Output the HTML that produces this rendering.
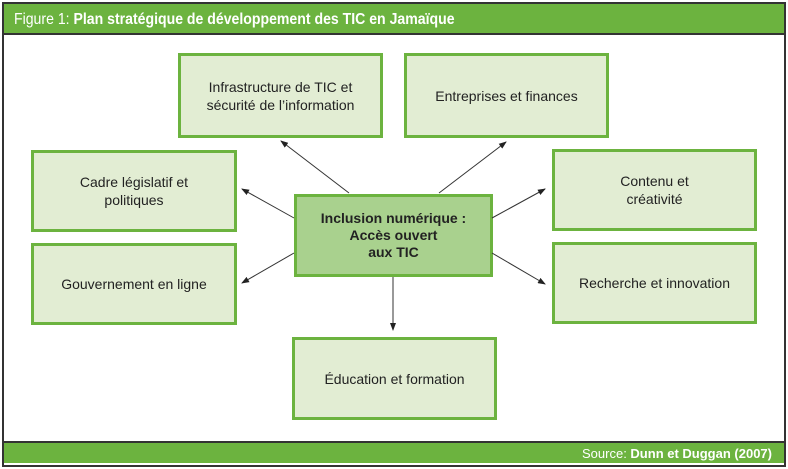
<!DOCTYPE html>
<html><head><meta charset="utf-8"><style>
body{margin:0;width:788px;height:469px;background:#fff;position:relative;overflow:hidden;font-family:"Liberation Sans",Arial,sans-serif}
.frame{position:absolute;left:2px;top:2px;width:780px;height:461px;border:2px solid #333;}
.hdr{position:absolute;left:4px;top:4px;width:780px;height:31px;background:#6cb33f;border-bottom:2px solid #333;color:#fff;font-size:16px;line-height:31px;padding-left:10px;box-sizing:border-box;white-space:nowrap}
.hdr span{display:inline-block;transform:scaleX(0.88);transform-origin:left}
.ftr{position:absolute;left:4px;top:441px;width:780px;height:22px;background:#6cb33f;border-top:2px solid #333;color:#fff;font-size:13px;line-height:21px;text-align:right;padding-right:12px;box-sizing:border-box}
.b{position:absolute;box-sizing:border-box;border:3px solid #6cb33f;background:#e2edd3;display:flex;align-items:center;justify-content:center;text-align:center;font-size:14px;color:#222;line-height:18px}
.c{background:#a9d18e;font-weight:bold;font-size:14px;line-height:17px}
</style></head><body>
<div class="frame"></div>
<div class="hdr"><span>Figure 1: <b>Plan stratégique de développement des TIC en Jamaïque</b></span></div>
<div class="b" style="left:178px;top:53px;width:205px;height:85px">Infrastructure de TIC et<br>sécurité de l’information</div>
<div class="b" style="left:404px;top:53px;width:205px;height:85px">Entreprises et finances</div>
<div class="b" style="left:31px;top:150px;width:206px;height:82px">Cadre législatif et<br>politiques</div>
<div class="b" style="left:552px;top:149px;width:205px;height:82px">Contenu et<br>créativité</div>
<div class="b" style="left:31px;top:243px;width:206px;height:82px">Gouvernement en ligne</div>
<div class="b" style="left:552px;top:242px;width:205px;height:82px">Recherche et innovation</div>
<div class="b c" style="left:294px;top:194px;width:199px;height:83px">Inclusion numérique :<br>Accès ouvert<br>aux TIC</div>
<div class="b" style="left:292px;top:337px;width:205px;height:83px">Éducation et formation</div>
<svg width="788" height="469" style="position:absolute;left:0;top:0">
<defs><marker id="a" markerWidth="8" markerHeight="6" refX="7" refY="3" orient="auto" markerUnits="userSpaceOnUse"><path d="M0,0L8,3L0,6z" fill="#222"/></marker></defs>
<g stroke="#333" stroke-width="1" marker-end="url(#a)">
<line x1="349" y1="193" x2="281" y2="141"/>
<line x1="439" y1="193" x2="506" y2="142"/>
<line x1="294" y1="218" x2="242" y2="189"/>
<line x1="492" y1="218" x2="545" y2="189"/>
<line x1="294" y1="253" x2="242" y2="283"/>
<line x1="492" y1="253" x2="545" y2="284"/>
<line x1="393" y1="277" x2="393" y2="330"/>
</g></svg>
<div class="ftr">Source: <b>Dunn et Duggan (2007)</b></div>
</body></html>
